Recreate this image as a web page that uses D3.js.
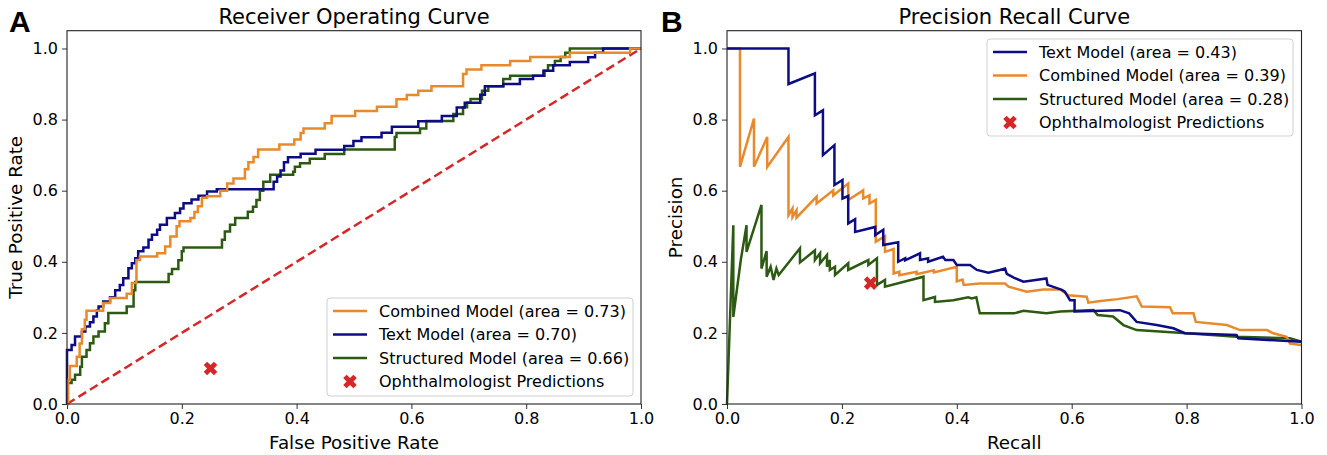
<!DOCTYPE html>
<html>
<head>
<meta charset="utf-8">
<script src="https://cdn.jsdelivr.net/npm/d3@7"></script>
<style>
  body { margin: 0; background: #fff; }
  svg { font-family: "DejaVu Sans", sans-serif; }
</style>
</head>
<body>
<svg id="chart" width="1327" height="455"></svg>
<script>
// ROC step points [fpr, tpr]: tpr holds from this fpr until the next point
const rocCombined = [[0,0],[0.002,0.068],[0.005,0.107],[0.017,0.133],[0.022,0.17],[0.026,0.21],[0.031,0.237],[0.034,0.262],[0.063,0.284],[0.075,0.298],[0.104,0.31],[0.113,0.34],[0.121,0.405],[0.127,0.415],[0.157,0.424],[0.171,0.443],[0.18,0.471],[0.191,0.5],[0.196,0.514],[0.215,0.523],[0.222,0.54],[0.228,0.556],[0.235,0.58],[0.244,0.584],[0.267,0.6],[0.279,0.62],[0.29,0.634],[0.31,0.66],[0.316,0.68],[0.325,0.695],[0.333,0.716],[0.37,0.73],[0.396,0.744],[0.407,0.762],[0.412,0.775],[0.449,0.79],[0.461,0.81],[0.502,0.824],[0.54,0.836],[0.574,0.857],[0.592,0.869],[0.612,0.881],[0.635,0.894],[0.69,0.928],[0.696,0.941],[0.722,0.953],[0.772,0.965],[0.807,0.976],[0.876,0.988],[0.981,1.0],[1,1]];
const rocText = [[0,0],[0,0.152],[0.008,0.166],[0.014,0.19],[0.026,0.204],[0.032,0.218],[0.04,0.23],[0.046,0.246],[0.052,0.263],[0.055,0.274],[0.063,0.288],[0.075,0.3],[0.084,0.32],[0.092,0.335],[0.098,0.354],[0.107,0.382],[0.113,0.396],[0.119,0.41],[0.124,0.43],[0.133,0.44],[0.142,0.462],[0.148,0.476],[0.157,0.49],[0.162,0.504],[0.174,0.523],[0.188,0.537],[0.197,0.55],[0.203,0.565],[0.217,0.575],[0.229,0.586],[0.244,0.598],[0.261,0.604],[0.36,0.625],[0.366,0.64],[0.372,0.657],[0.378,0.68],[0.385,0.694],[0.407,0.704],[0.433,0.715],[0.483,0.726],[0.499,0.74],[0.513,0.75],[0.548,0.763],[0.566,0.78],[0.612,0.795],[0.653,0.81],[0.679,0.834],[0.693,0.847],[0.72,0.87],[0.728,0.894],[0.76,0.9],[0.789,0.914],[0.812,0.923],[0.83,0.937],[0.847,0.953],[0.876,0.962],[0.908,0.975],[0.92,0.988],[0.934,1.0],[1,1]];
const rocStructured = [[0,0],[0.001,0.059],[0.008,0.068],[0.014,0.082],[0.023,0.105],[0.026,0.133],[0.034,0.152],[0.04,0.171],[0.046,0.19],[0.055,0.204],[0.066,0.227],[0.072,0.256],[0.104,0.274],[0.116,0.32],[0.119,0.343],[0.177,0.366],[0.183,0.38],[0.194,0.404],[0.2,0.43],[0.203,0.44],[0.27,0.462],[0.275,0.485],[0.284,0.504],[0.293,0.523],[0.305,0.523],[0.315,0.541],[0.324,0.555],[0.33,0.574],[0.336,0.6],[0.342,0.625],[0.354,0.645],[0.394,0.653],[0.397,0.667],[0.406,0.677],[0.423,0.69],[0.449,0.703],[0.483,0.716],[0.571,0.751],[0.574,0.762],[0.615,0.775],[0.626,0.796],[0.673,0.816],[0.69,0.835],[0.697,0.847],[0.703,0.858],[0.723,0.881],[0.734,0.894],[0.76,0.914],[0.772,0.923],[0.832,0.937],[0.838,0.953],[0.85,0.965],[0.86,0.976],[0.868,0.988],[0.876,1.0],[1,1]];

// PR points [recall, precision], joined by straight segments
const prText = [[0,1],[0.107,1],[0.107,0.9],[0.153,0.93],[0.153,0.812],[0.167,0.826],[0.167,0.70],[0.187,0.728],[0.187,0.616],[0.201,0.63],[0.201,0.578],[0.211,0.585],[0.211,0.508],[0.223,0.52],[0.223,0.484],[0.258,0.498],[0.258,0.475],[0.272,0.49],[0.272,0.447],[0.298,0.455],[0.298,0.4],[0.31,0.41],[0.31,0.404],[0.336,0.424],[0.336,0.405],[0.35,0.41],[0.35,0.4],[0.376,0.414],[0.38,0.405],[0.394,0.405],[0.40,0.391],[0.423,0.391],[0.435,0.377],[0.455,0.369],[0.475,0.377],[0.484,0.381],[0.487,0.366],[0.5,0.355],[0.516,0.344],[0.556,0.353],[0.558,0.335],[0.583,0.321],[0.588,0.316],[0.597,0.292],[0.605,0.292],[0.605,0.26],[0.684,0.264],[0.70,0.255],[0.713,0.231],[0.748,0.222],[0.777,0.213],[0.797,0.199],[0.887,0.194],[0.89,0.185],[1.0,0.175]];
const prCombined = [[0,1],[0.0226,1],[0.0226,0.667],[0.047,0.803],[0.047,0.667],[0.07,0.751],[0.07,0.667],[0.107,0.751],[0.107,0.531],[0.114,0.55],[0.114,0.526],[0.121,0.545],[0.121,0.524],[0.156,0.583],[0.156,0.564],[0.185,0.601],[0.185,0.587],[0.211,0.62],[0.211,0.574],[0.237,0.601],[0.237,0.578],[0.248,0.587],[0.248,0.564],[0.259,0.574],[0.259,0.456],[0.275,0.472],[0.275,0.428],[0.29,0.436],[0.29,0.367],[0.30,0.372],[0.30,0.362],[0.33,0.372],[0.33,0.365],[0.36,0.376],[0.36,0.37],[0.40,0.386],[0.40,0.345],[0.41,0.35],[0.412,0.335],[0.44,0.339],[0.484,0.339],[0.49,0.33],[0.522,0.316],[0.55,0.322],[0.58,0.322],[0.594,0.306],[0.626,0.302],[0.629,0.285],[0.65,0.29],[0.68,0.295],[0.713,0.303],[0.722,0.274],[0.771,0.272],[0.776,0.255],[0.812,0.255],[0.816,0.231],[0.87,0.222],[0.893,0.208],[0.94,0.208],[0.951,0.199],[0.974,0.189],[0.98,0.17],[1.0,0.166]];
const prStructured = [[0,0],[0.011,0.503],[0.011,0.245],[0.024,0.405],[0.034,0.503],[0.034,0.428],[0.06,0.56],[0.06,0.381],[0.069,0.43],[0.069,0.358],[0.076,0.386],[0.081,0.349],[0.086,0.381],[0.09,0.363],[0.127,0.438],[0.127,0.398],[0.153,0.432],[0.153,0.405],[0.162,0.424],[0.162,0.396],[0.174,0.419],[0.174,0.386],[0.179,0.405],[0.179,0.377],[0.188,0.386],[0.188,0.363],[0.211,0.396],[0.211,0.377],[0.246,0.405],[0.246,0.391],[0.261,0.41],[0.261,0.335],[0.275,0.349],[0.275,0.33],[0.342,0.358],[0.342,0.292],[0.362,0.301],[0.362,0.287],[0.394,0.292],[0.42,0.3],[0.426,0.297],[0.434,0.3],[0.44,0.255],[0.5,0.255],[0.516,0.262],[0.556,0.255],[0.58,0.26],[0.638,0.264],[0.645,0.25],[0.672,0.246],[0.69,0.222],[0.713,0.208],[0.8,0.199],[0.887,0.189],[0.98,0.185],[1.0,0.175]];

const ophthRoc = [0.25, 0.10];
const ophthPr = [0.25, 0.34];
const tickValues = [0, 0.2, 0.4, 0.6, 0.8, 1.0];
const rocLabels = ["Combined Model (area = 0.73)", "Text Model (area = 0.70)", "Structured Model (area = 0.66)", "Ophthalmologist Predictions"];
const prLabels = ["Text Model (area = 0.43)", "Combined Model (area = 0.39)", "Structured Model (area = 0.28)", "Ophthalmologist Predictions"];

const colors = { combined: "#e8892b", text: "#0d0c85", structured: "#2d5a12", red: "#d62728" };

const svg = d3.select("#chart");
const plotTop = 30.7, plotBottom = 404;
const lineW = 2.5;

function panel(opts) {
  const x = d3.scaleLinear().domain([0, 1]).range([opts.left, opts.right]);
  const y = d3.scaleLinear().domain([0, 1.05]).range([plotBottom, plotTop]);
  const g = svg.append("g");

  g.append("g")
    .attr("transform", `translate(0,${plotBottom})`)
    .call(d3.axisBottom(x).tickValues(tickValues).tickFormat(d3.format(".1f")).tickSize(5).tickPadding(4))
    .call(a => a.select(".domain").remove())
    .call(a => a.selectAll("text").attr("font-size", 16).attr("fill", "#000").attr("font-family", "DejaVu Sans"))
    .call(a => a.selectAll("line").attr("stroke", "#333"));

  g.append("g")
    .attr("transform", `translate(${opts.left},0)`)
    .call(d3.axisLeft(y).tickValues(tickValues).tickFormat(d3.format(".1f")).tickSize(5).tickPadding(4))
    .call(a => a.select(".domain").remove())
    .call(a => a.selectAll("text").attr("font-size", 16).attr("fill", "#000").attr("font-family", "DejaVu Sans"))
    .call(a => a.selectAll("line").attr("stroke", "#333"));

  const plot = g.append("g");

  if (opts.diagonal) {
    plot.append("line")
      .attr("x1", x(0)).attr("y1", y(0)).attr("x2", x(1)).attr("y2", y(1))
      .attr("stroke", colors.red).attr("stroke-width", lineW).attr("stroke-dasharray", "9,4.5");
  }

  const line = d3.line().x(d => x(d[0])).y(d => y(d[1])).curve(opts.curve);
  opts.series.forEach(s => {
    plot.append("path")
      .datum(s.data)
      .attr("fill", "none")
      .attr("stroke", s.color)
      .attr("stroke-width", lineW)
      .attr("d", line);
  });

  const marker = d3.symbol().type(d3.symbolCross).size(115);
  plot.append("path")
    .attr("d", marker)
    .attr("fill", colors.red)
    .attr("transform", `translate(${x(opts.ophth[0])},${y(opts.ophth[1])}) rotate(45)`);

  g.append("rect")
    .attr("x", opts.left).attr("y", plotTop)
    .attr("width", opts.right - opts.left).attr("height", plotBottom - plotTop)
    .attr("fill", "none").attr("stroke", "#222").attr("stroke-width", 1.1);

  g.append("text")
    .attr("x", (opts.left + opts.right) / 2).attr("y", 23.5)
    .attr("text-anchor", "middle").attr("font-size", 21)
    .text(opts.title);

  g.append("text")
    .attr("x", (opts.left + opts.right) / 2).attr("y", 449)
    .attr("text-anchor", "middle").attr("font-size", 18.3)
    .text(opts.xLabel);

  g.append("text")
    .attr("transform", `translate(${opts.left - 45},${(plotTop + plotBottom) / 2}) rotate(-90)`)
    .attr("text-anchor", "middle").attr("font-size", 18.3)
    .text(opts.yLabel);

  g.append("text")
    .attr("x", opts.letterX).attr("y", 31.5)
    .attr("font-family", "Liberation Sans, Arial, sans-serif")
    .attr("font-weight", "bold").attr("font-size", 30)
    .text(opts.letter);

  // legend
  const lg = g.append("g").attr("transform", `translate(${opts.legend.x},${opts.legend.y})`);
  lg.append("rect")
    .attr("width", opts.legend.w).attr("height", opts.legend.h)
    .attr("rx", 3).attr("fill", "#fff").attr("fill-opacity", 0.85)
    .attr("stroke", "#d0d0d0");
  const rows = opts.legendSeries.map((s, i) => ({ label: opts.labels[i], color: s ? s.color : null }));
  rows.forEach((r, i) => {
    const cy = 13 + i * 23.5;
    if (r.color) {
      lg.append("line").attr("x1", 6).attr("x2", 40).attr("y1", cy).attr("y2", cy)
        .attr("stroke", r.color).attr("stroke-width", lineW);
    } else {
      lg.append("path").attr("d", marker).attr("fill", colors.red)
        .attr("transform", `translate(23,${cy}) rotate(45)`);
    }
    lg.append("text").attr("x", 52).attr("y", cy).attr("dy", "0.36em")
      .attr("font-size", 16).text(r.label);
  });
}

const sCombinedRoc = { data: rocCombined, color: colors.combined };
const sTextRoc = { data: rocText, color: colors.text };
const sStructRoc = { data: rocStructured, color: colors.structured };

panel({
  left: 67, right: 641, title: "Receiver Operating Curve",
  xLabel: "False Positive Rate", yLabel: "True Positive Rate",
  letter: "A", letterX: 9, diagonal: true, curve: d3.curveStepAfter,
  series: [sStructRoc, sTextRoc, sCombinedRoc],
  legendSeries: [sCombinedRoc, sTextRoc, sStructRoc, null],
  labels: rocLabels, ophth: ophthRoc,
  legend: { x: 327, y: 298, w: 306, h: 98 }
});

const sTextPr = { data: prText, color: colors.text };
const sCombinedPr = { data: prCombined, color: colors.combined };
const sStructPr = { data: prStructured, color: colors.structured };

panel({
  left: 727, right: 1301.5, title: "Precision Recall Curve",
  xLabel: "Recall", yLabel: "Precision",
  letter: "B", letterX: 661, diagonal: false, curve: d3.curveLinear,
  series: [sStructPr, sCombinedPr, sTextPr],
  legendSeries: [sTextPr, sCombinedPr, sStructPr, null],
  labels: prLabels, ophth: ophthPr,
  legend: { x: 987, y: 39, w: 306, h: 97 }
});
</script>
</body>
</html>
